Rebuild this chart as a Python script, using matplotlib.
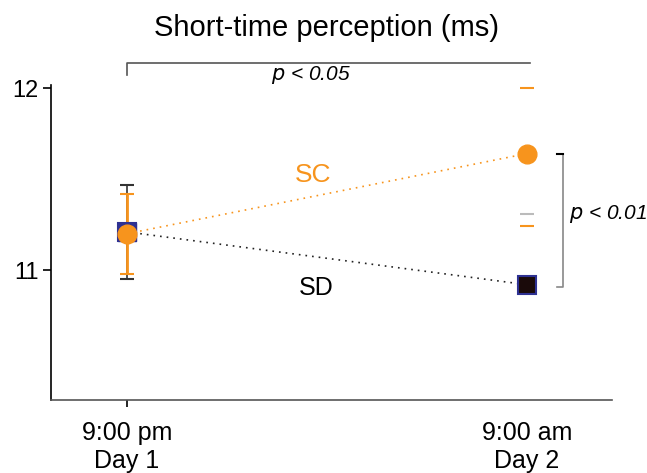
import matplotlib
matplotlib.use("Agg")
import matplotlib.pyplot as plt

plt.rcParams['font.family'] = ['Liberation Sans', 'DejaVu Sans']

# data
sessions = [0, 1]
session_labels = ["9:00 pm\nDay 1", "9:00 am\nDay 2"]
sc_mean = [11.20, 11.64]
sd_mean = [11.21, 10.92]
sc_err_day1 = 0.22
sd_err_day1 = 0.26
sc_caps_day2 = [12.00, 11.24]
sd_caps_day2 = [11.31]

orange = '#f7941d'
navy = '#2e3192'

fig = plt.figure(figsize=(6.47, 4.73), dpi=100)
ax = fig.add_axes([0.0788, 0.154, 0.867, 0.666])

# dotted connecting lines
ax.plot(sessions, sc_mean, linestyle=(0, (1, 3)), color=orange, lw=1.2, zorder=2)
ax.plot(sessions, sd_mean, linestyle=(0, (1, 3)), color='#222222', lw=1.2, zorder=2)

# day 1 error bars
ax.errorbar(sessions[0], sd_mean[0], yerr=sd_err_day1, fmt='none', ecolor='#333333',
            elinewidth=1.2, capsize=5, capthick=1.5, zorder=3)
ax.errorbar(sessions[0], sc_mean[0], yerr=sc_err_day1, fmt='none', ecolor=orange,
            elinewidth=2, capsize=5, capthick=1.5, zorder=4)

# day 2 caps only
ax.plot([sessions[1]] * len(sc_caps_day2), sc_caps_day2, linestyle='none', marker='_',
        markersize=10, mew=1.5, color=orange, zorder=3)
ax.plot([sessions[1]] * len(sd_caps_day2), sd_caps_day2, linestyle='none', marker='_',
        markersize=10, mew=1.5, color='#bbbbbb', zorder=3)

# markers
ax.plot(sessions, sd_mean, linestyle='none', marker='s', markersize=12.5,
        markerfacecolor='#1a0a0a', markeredgecolor=navy, mew=1.5, zorder=5)
ax.plot(sessions[0], sd_mean[0], linestyle='none', marker='s', markersize=12.5,
        markerfacecolor=navy, markeredgecolor=navy, zorder=5)
ax.plot(sessions, sc_mean, linestyle='none', marker='o', markersize=13.5,
        color=orange, zorder=6)

ax.text(0.465, 11.52, "SC", color=orange, fontsize=19, ha='center', va='center')
ax.text(0.473, 10.9, "SD", color='black', fontsize=18, ha='center', va='center')

# significance brackets
ax.plot([0, 0, 1.0075], [12.07, 12.14, 12.14], color='#555555', lw=1.2, clip_on=False)
ax.text(0.46, 12.07, r"$p$ < 0.05", fontsize=15, style='italic', ha='center', va='center')
ax.plot([1.075, 1.09, 1.09, 1.075], [sc_mean[1], sc_mean[1], 10.905, 10.905],
        color='#888888', lw=1.2, clip_on=False)
ax.plot([1.075, 1.09], [sc_mean[1], sc_mean[1]], color='black', lw=1.5, clip_on=False)
ax.text(1.105, 11.31, r"$p$ < 0.01", fontsize=15, style='italic', ha='left', va='center')

ax.set_xlim(-0.19, 1.2125)
ax.set_ylim(10.286, 12.016)
ax.set_yticks([11, 12])
ax.set_xticks(sessions)
ax.set_xticklabels(session_labels, fontsize=18)
ax.tick_params(axis='y', labelsize=17, length=6, width=1.2, pad=3)
ax.tick_params(axis='x', length=5, width=1.2, pad=10)
ax.xaxis.get_major_ticks()[1].tick1line.set_visible(False)
for s in ['top', 'right']:
    ax.spines[s].set_visible(False)
ax.spines['left'].set_linewidth(1.2)
ax.spines['bottom'].set_linewidth(1.2)
ax.spines['bottom'].set_color('#555555')

fig.text(0.505, 0.94, "Short-time perception (ms)", fontsize=21, ha='center', va='center')

fig.savefig("out.png", dpi=100)
